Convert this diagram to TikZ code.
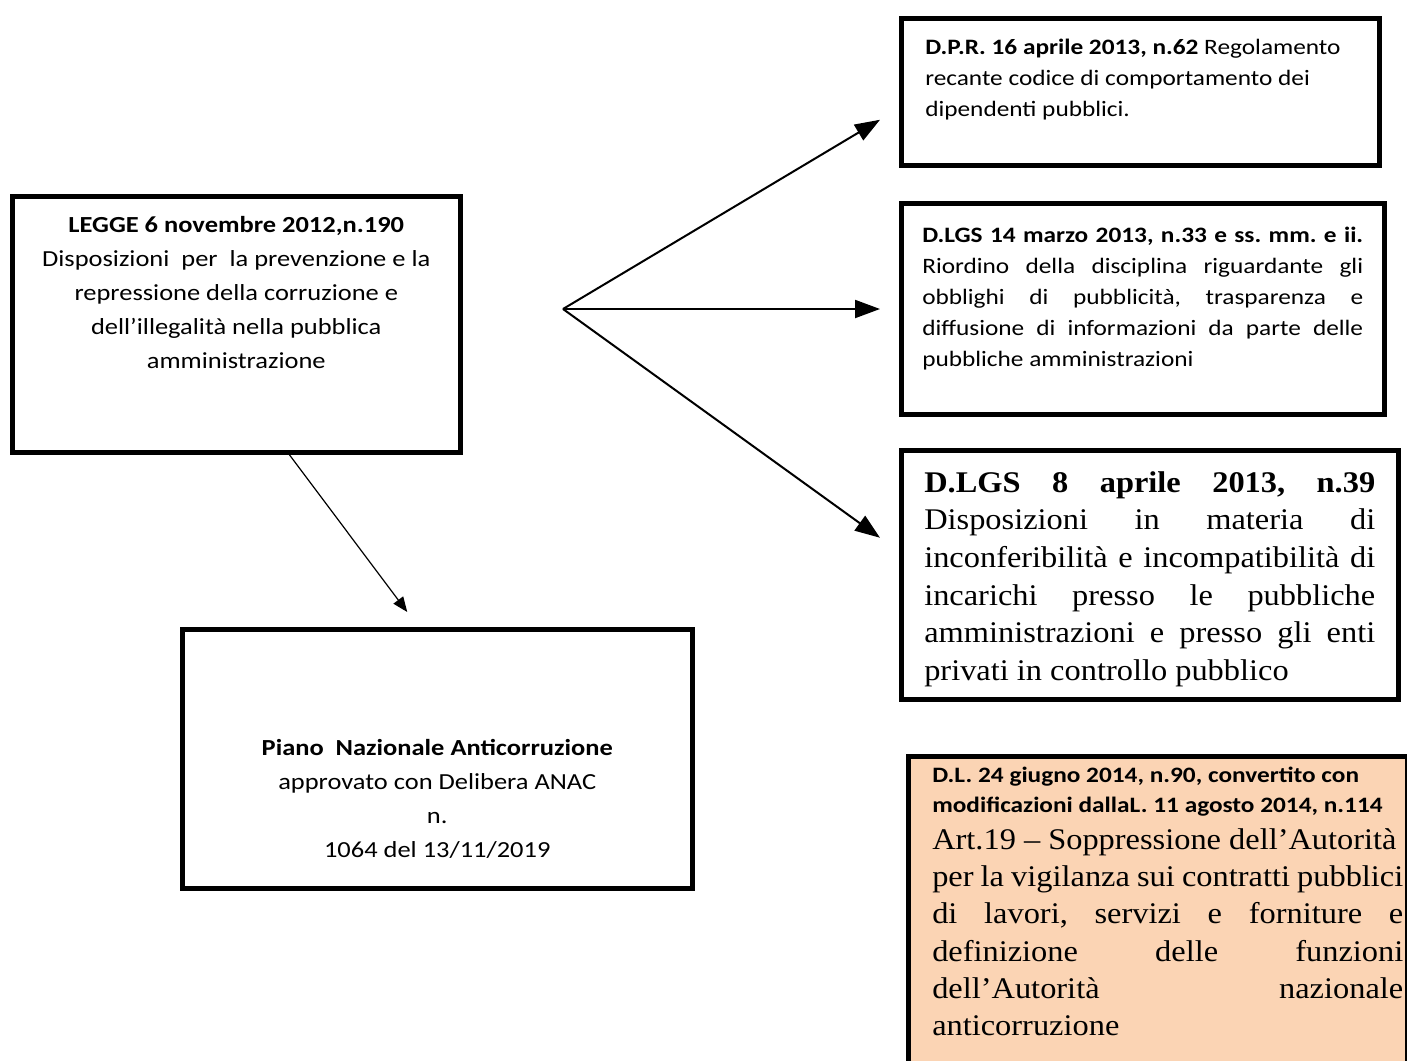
\documentclass[tikz,border=0pt]{standalone}
\usepackage{fontspec}
\setmainfont{Carlito}[FakeStretch=1.15]
\newfontfamily\timesfont{Liberation Serif}[FakeStretch=1.08]
\usetikzlibrary{arrows.meta}
\definecolor{peach}{HTML}{FBD4B4}
\frenchspacing

\begin{document}
\begin{tikzpicture}
[x=1pt,y=-1pt,%
  box/.style={draw,line width=4.5pt,anchor=north west,inner ysep=0pt,inner xsep=0pt},%
  bigarrow/.style={-{Triangle[length=25pt,width=18pt]},line width=2pt},%
  smallarrow/.style={-{Triangle[length=15pt,width=12pt]},line width=1.2pt}]
\path[use as bounding box,clip] (0,0) rectangle (1407,1060);
\node[box,align=flush center,text width=448pt,text height=36pt,text depth=220pt,
  font=\fontsize{23}{34}\selectfont] (legge) at (10,194)
  {\textbf{LEGGE 6 novembre 2012,n.190}\\
   Disposizioni\ \ per\ \ la prevenzione e la\\
   repressione della corruzione e\\
   dell’illegalità nella pubblica\\
   amministrazione};
\node[box,align=flush center,text width=510pt,text height=126pt,text depth=133pt,
  font=\fontsize{23}{34}\selectfont] (piano) at (180,627)
  {\textbf{Piano\ \ Nazionale Anticorruzione}\\
   approvato con Delibera ANAC\\
   n.\\
   1064 del 13/11/2019};
\node[box,align=flush left,inner xsep=24pt,text width=430pt,text height=36pt,text depth=111pt,
  font=\fontsize{22}{31}\selectfont] (dpr) at (899,16)
  {\textbf{D.P.R. 16 aprile 2013, n.62} Regolamento\\
   recante codice di comportamento dei\\
   dipendenti pubblici.};
\node[box,align=justify,inner xsep=21pt,text width=441pt,text height=39pt,text depth=172pt,
  font=\fontsize{22}{31}\selectfont] (dlgs33) at (899,201)
  {\textbf{D.LGS 14 marzo 2013, n.33 e ss. mm. e ii.}\linebreak
   Riordino della disciplina riguardante gli\linebreak
   obblighi di pubblicità, trasparenza e\linebreak
   diffusione di informazioni da parte delle\linebreak
   pubbliche amministrazioni};
\node[box,align=justify,inner xsep=23pt,text width=451pt,text height=42pt,text depth=207pt,
  font=\timesfont\fontsize{30}{37.6}\selectfont] (dlgs39) at (899,448)
  {\textbf{D.LGS 8 aprile 2013, n.39}\linebreak
   Disposizioni in materia di\linebreak
   inconferibilità e incompatibilità di\linebreak
   incarichi presso le pubbliche\linebreak
   amministrazioni e presso gli enti\linebreak
   privati in controllo pubblico};
\node[box,fill=peach,align=justify,inner xsep=4pt,text width=491pt,text height=26pt,text depth=330pt] (dl) at (906,754)
  {\leftskip=20pt
   {\fontsize{22}{30}\selectfont\bfseries D.L. 24 giugno 2014, n.90, convertito con\\
   modificazioni dallaL. 11 agosto 2014, n.114\par}
   {\timesfont\fontsize{30}{37.2}\selectfont
   Art.19 – Soppressione dell’Autorità\\
   per la vigilanza sui contratti pubblici\linebreak
   di lavori, servizi e forniture e\linebreak
   definizione delle funzioni\linebreak
   dell’Autorità nazionale\linebreak
   anticorruzione\par}};
\coordinate (hub) at (563,309);
\draw[bigarrow] (hub) -- ([xshift=-19pt,yshift=-28pt]dpr.west);
\draw[bigarrow] (hub) -- ([xshift=-19pt]dlgs33.west |- hub);
\draw[bigarrow] (hub) -- ([xshift=-19pt,yshift=37pt]dlgs39.west);
\draw[smallarrow] ([xshift=53pt]legge.south) -- ([xshift=-30pt,yshift=15pt]piano.north);
\end{tikzpicture}
\end{document}
